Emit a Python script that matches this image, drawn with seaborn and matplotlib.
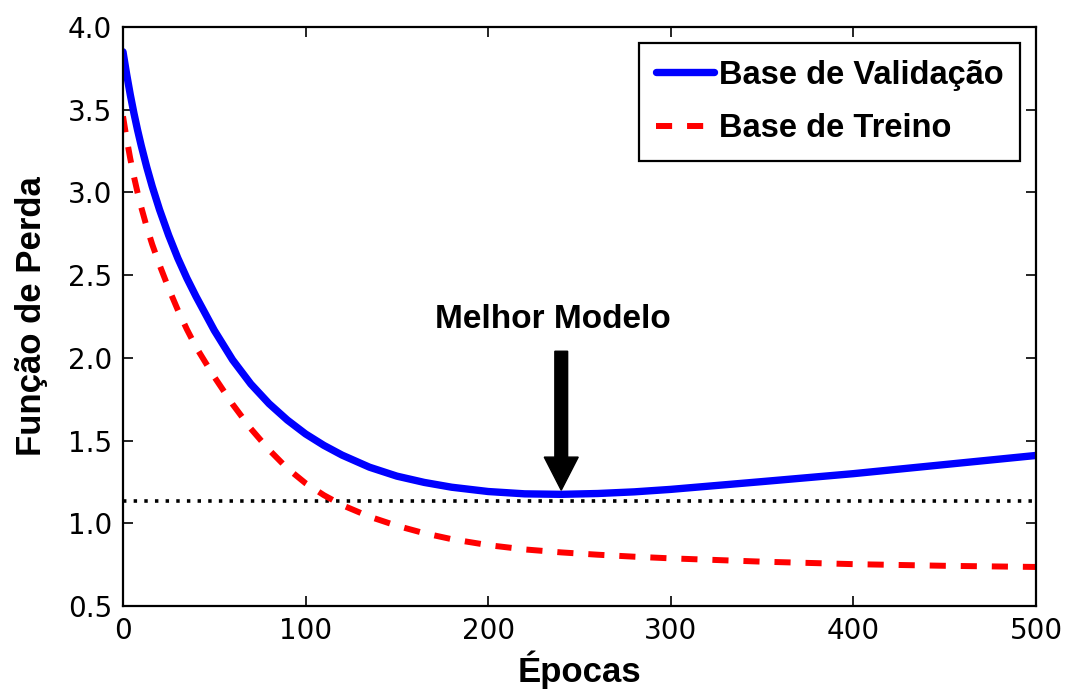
import matplotlib
matplotlib.use("Agg")
import matplotlib.pyplot as plt
import seaborn as sns
import pandas as pd

# ---- data ----
epochs_val = [0, 2, 4, 6, 8, 10, 13, 16, 20, 25, 30, 35, 40, 50, 60, 70, 80,
              90, 100, 110, 120, 135, 150, 165, 180, 200, 220, 240, 260, 280,
              300, 350, 400, 450, 500]
loss_val = [3.85, 3.714, 3.59, 3.478, 3.376, 3.282, 3.153, 3.036, 2.896, 2.741,
            2.603, 2.481, 2.371, 2.166, 1.988, 1.842, 1.723, 1.624, 1.54,
            1.471, 1.412, 1.339, 1.285, 1.247, 1.218, 1.192, 1.178, 1.175,
            1.18, 1.19, 1.205, 1.252, 1.30, 1.355, 1.41]

epochs_train = [0, 2, 4, 6, 8, 10, 13, 16, 20, 25, 30, 35, 40, 50, 60, 70, 80,
                90, 100, 110, 120, 135, 150, 165, 180, 200, 220, 240, 260, 280,
                300, 350, 400, 450, 500]
loss_train = [3.46, 3.324, 3.203, 3.095, 2.998, 2.91, 2.791, 2.686, 2.562,
              2.42, 2.29, 2.172, 2.065, 1.885, 1.72, 1.572, 1.444, 1.332,
              1.242, 1.17, 1.11, 1.04, 0.985, 0.94, 0.904, 0.868, 0.842,
              0.824, 0.81, 0.798, 0.788, 0.768, 0.753, 0.743, 0.736]

best_loss = 1.137
best_epoch = 240
arrow_top = 2.04
arrow_tip = 1.20
annot_text = "Melhor Modelo"
annot_y = 2.18
annot_x = 235.5

x_ticks = [0, 100, 200, 300, 400, 500]
y_ticks = [0.5, 1.0, 1.5, 2.0, 2.5, 3.0, 3.5, 4.0]
label_val = "Base de Validação"
label_train = "Base de Treino"
xlabel = "Épocas"
ylabel = "Função de Perda"

df_val = pd.DataFrame({"epoch": epochs_val, "loss": loss_val})
df_train = pd.DataFrame({"epoch": epochs_train, "loss": loss_train})

sns.set_style("ticks")
plt.rcParams["font.family"] = ["DejaVu Sans"]
plt.rcParams["text.color"] = "black"
plt.rcParams["axes.labelcolor"] = "black"
plt.rcParams["xtick.color"] = "black"
plt.rcParams["ytick.color"] = "black"

bold_family = ["Liberation Sans", "DejaVu Sans"]

fig = plt.figure(figsize=(10.72, 6.95), dpi=100)
ax = fig.add_axes([123 / 1072, 1 - 606 / 695, (1036 - 123) / 1072, (606 - 27) / 695])

sns.lineplot(data=df_val, x="epoch", y="loss", ax=ax, color="#0000ff",
             linewidth=5.3, label=label_val)
sns.lineplot(data=df_train, x="epoch", y="loss", ax=ax, color="#ff0000",
             linewidth=4.3, linestyle=(0, (2.7, 2.5)), label=label_train)
for ln in ax.get_lines():
    ln.set_solid_joinstyle("round")
    ln.set_dash_joinstyle("round")
ax.axhline(best_loss, color="black", linewidth=2.6, linestyle=(0, (0.95, 2.0)),
           zorder=1)

ax.arrow(best_epoch, arrow_top, 0, -(arrow_top - arrow_tip), width=7.0,
         head_width=18.6, head_length=0.2, length_includes_head=True,
         color="black", zorder=5)
ax.text(annot_x, annot_y, annot_text, ha="center", va="baseline",
        fontsize=24, fontweight="bold", family=bold_family)

ax.set_xlim(0, 500)
ax.set_ylim(0.5, 4.0)
ax.set_xticks(x_ticks)
ax.set_yticks(y_ticks)
ax.set_yticklabels([f"{v:.1f}" for v in y_ticks])
ax.tick_params(direction="in", length=7, width=1.2, labelsize=20, pad=8,
               top=True, right=True, colors="black")
for sp in ax.spines.values():
    sp.set_visible(True)
    sp.set_linewidth(1.6)
    sp.set_color("black")

ax.set_xlabel(xlabel, fontsize=25, fontweight="bold", family=bold_family,
              labelpad=4)
ax.set_ylabel(ylabel, fontsize=25, fontweight="bold", family=bold_family,
              labelpad=14)

leg = ax.legend(loc="upper right", frameon=True, fancybox=False,
                handlelength=1.78, handletextpad=0.15, labelspacing=0.7,
                borderpad=0.5, borderaxespad=0.5,
                prop={"family": bold_family, "weight": "bold", "size": 23.5})
leg.get_frame().set_edgecolor("black")
leg.get_frame().set_linewidth(1.6)
leg.get_frame().set_alpha(1)
for t in leg.get_texts():
    t.set_color("black")

fig.savefig("out.png", dpi=100, facecolor="white")
